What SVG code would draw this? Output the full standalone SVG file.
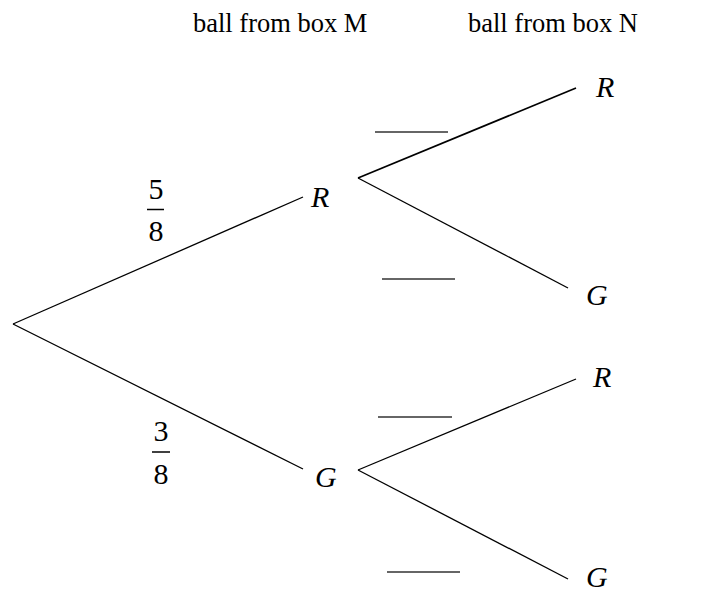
<svg xmlns="http://www.w3.org/2000/svg" width="726" height="591" viewBox="0 0 726 591" font-family="'Liberation Serif', 'Times New Roman', 'DejaVu Serif', serif">
<style>
text{font-family:'Liberation Serif','Times New Roman','DejaVu Serif',serif;fill:#000}
.t{font-size:26.5px}
.v{font-size:30px;font-style:italic}
.d{font-size:30px;text-anchor:middle}
.e{stroke:#000;stroke-width:1.3;fill:none}
.b{stroke:#333;stroke-width:1.5;fill:none}
.f{stroke:#000;stroke-width:1.5;fill:none}
</style>
<rect width="726" height="591" fill="#fff"/>
<g id="headers">
<text class="t" x="193" y="32">ball from box M</text>
<text class="t" x="468" y="32">ball from box N</text>
</g>
<g id="connectors">
<line class="e" x1="13" y1="324" x2="303" y2="197"/>
<line class="e" x1="13" y1="324" x2="303" y2="469"/>
<line class="e" x1="358" y1="178" x2="576" y2="88" style="stroke-width:1.7"/>
<line class="e" x1="358" y1="178" x2="568" y2="288"/>
<line class="e" x1="358" y1="470" x2="576" y2="379"/>
<line class="e" x1="358" y1="470" x2="568" y2="579"/>
</g>
<g id="node-R1"><text class="v" x="311" y="207">R</text></g>
<g id="node-G1"><text class="v" x="315" y="487">G</text></g>
<g id="node-RR"><text class="v" x="596" y="97">R</text></g>
<g id="node-RG"><text class="v" x="586" y="305">G</text></g>
<g id="node-GR"><text class="v" x="593" y="387">R</text></g>
<g id="node-GG"><text class="v" x="586" y="587">G</text></g>
<g id="prob-5-8">
<text class="d" x="156" y="199">5</text>
<line class="f" x1="147" y1="209.5" x2="164" y2="209.5"/>
<text class="d" x="156" y="241">8</text>
</g>
<g id="prob-3-8">
<text class="d" x="161" y="441">3</text>
<line class="f" x1="152" y1="452" x2="170" y2="452"/>
<text class="d" x="161" y="484">8</text>
</g>
<g id="blanks">
<line class="b" x1="375" y1="132" x2="448" y2="132"/>
<line class="b" x1="382" y1="279" x2="455" y2="279"/>
<line class="b" x1="378" y1="417" x2="452" y2="417"/>
<line class="b" x1="387" y1="572" x2="460" y2="572"/>
</g>
</svg>
